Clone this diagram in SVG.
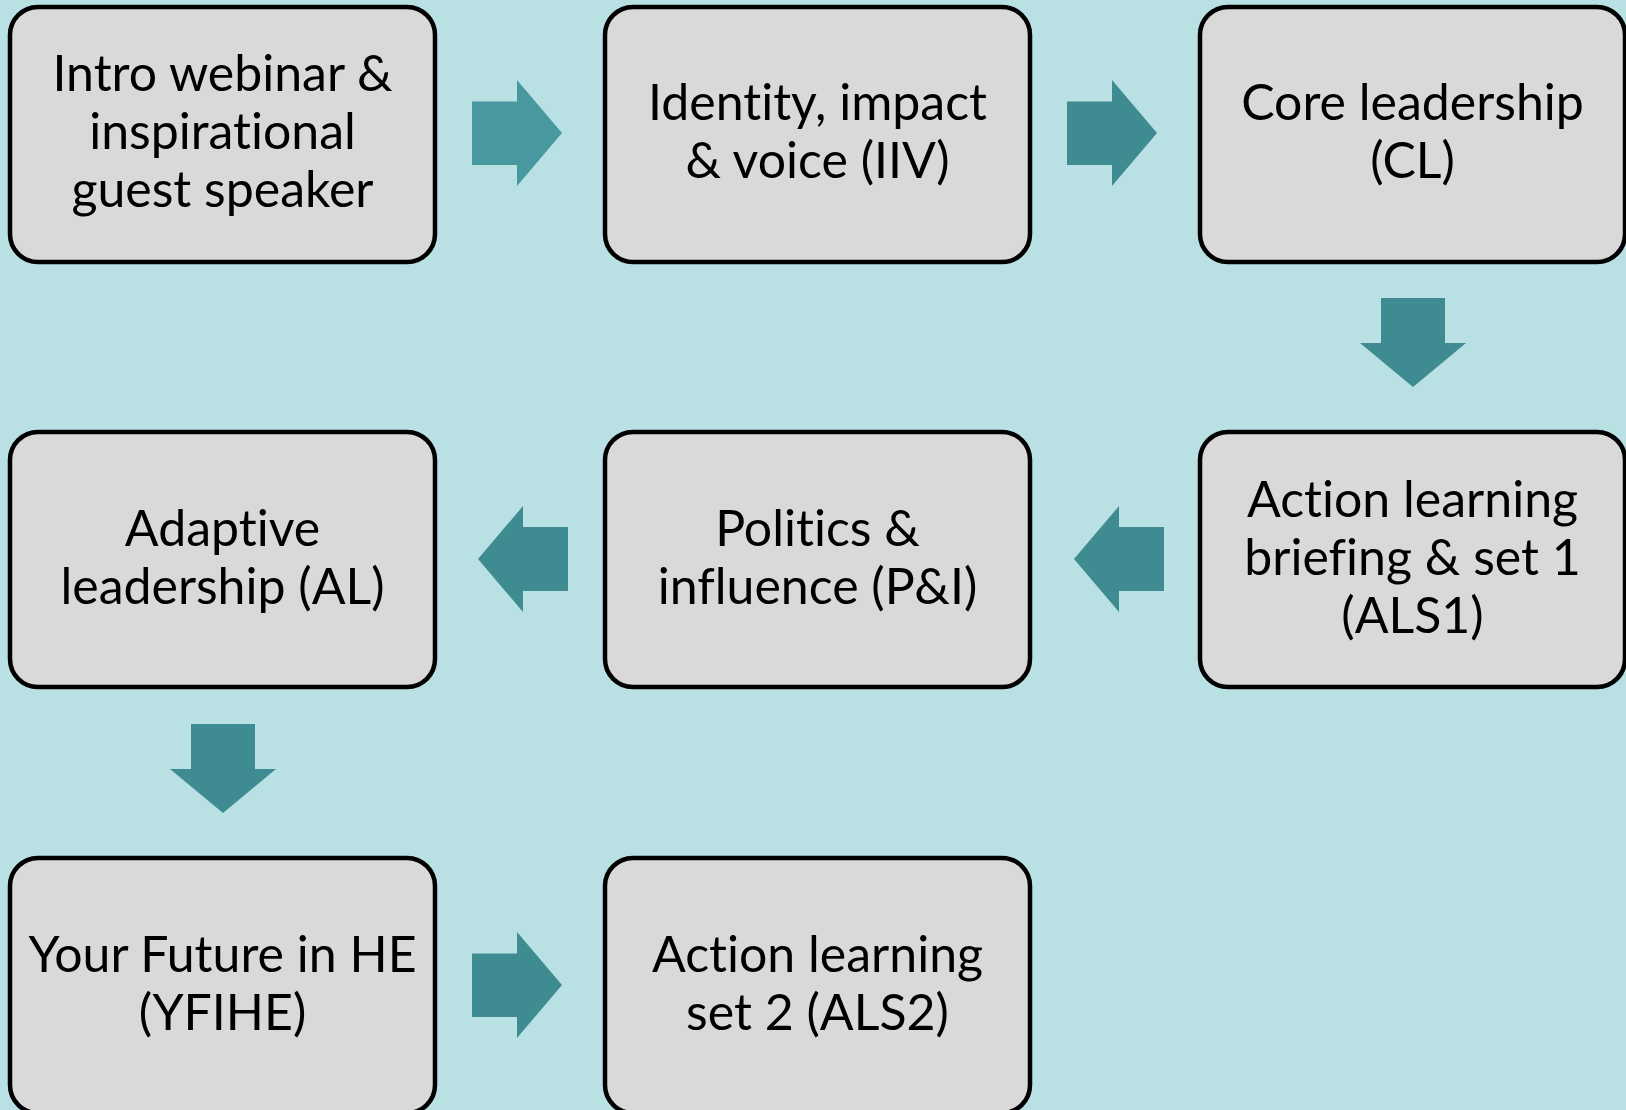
<svg xmlns="http://www.w3.org/2000/svg" width="1626" height="1110" viewBox="0 0 1626 1110">
  <style>
    .box rect { fill: #d9d9d9; stroke: #000; stroke-width: 4.5; }
    .box text { font-family: Lato, "Liberation Sans", sans-serif; font-size: 50px; fill: #000; text-anchor: middle; font-variant-ligatures: none; }
    .arrow { fill: #3e8c91; }
    .arrow.light { fill: #4898a0; }
  </style>
  <defs>
    <polygon id="arrow-right" points="0,21.5 45,21.5 45,0 90,53 45,106 45,85 0,85"/>
    <polygon id="arrow-left" points="0,53 45,0 45,21 90,21 90,85 45,85 45,106"/>
    <polygon id="arrow-down" points="21,0 85,0 85,45 106,45 53,89 0,45 21,45"/>
  </defs>

  <rect width="1626" height="1110" fill="#b9e0e3"/>

  <!-- connectors -->
  <g id="connectors">
    <use href="#arrow-right" class="arrow light" x="472" y="80"/>
    <use href="#arrow-right" class="arrow" x="1067" y="80"/>
    <use href="#arrow-down" class="arrow" x="1360" y="298"/>
    <use href="#arrow-left" class="arrow" x="1074" y="506"/>
    <use href="#arrow-left" class="arrow" x="478" y="506"/>
    <use href="#arrow-down" class="arrow" x="170" y="724"/>
    <use href="#arrow-right" class="arrow" x="472" y="932"/>
  </g>

  <!-- row 1 -->
  <g id="intro" class="box">
    <rect x="10" y="7" width="425" height="255" rx="28"/>
    <text x="222.5" y="91">Intro webinar &amp;</text>
    <text x="222.5" y="149">inspirational</text>
    <text x="222.5" y="207">guest speaker</text>
  </g>
  <g id="iiv" class="box">
    <rect x="605" y="7" width="425" height="255" rx="28"/>
    <text x="817.5" y="120">Identity, impact</text>
    <text x="817.5" y="178">&amp; voice (IIV)</text>
  </g>
  <g id="cl" class="box">
    <rect x="1200" y="7" width="425" height="255" rx="28"/>
    <text x="1412.5" y="120">Core leadership</text>
    <text x="1412.5" y="178">(CL)</text>
  </g>

  <!-- row 2 -->
  <g id="als1" class="box">
    <rect x="1200" y="432" width="425" height="255" rx="28"/>
    <text x="1412.5" y="517">Action learning</text>
    <text x="1412.5" y="575">briefing &amp; set 1</text>
    <text x="1412.5" y="633">(ALS1)</text>
  </g>
  <g id="pi" class="box">
    <rect x="605" y="432" width="425" height="255" rx="28"/>
    <text x="817.5" y="546">Politics &amp;</text>
    <text x="817.5" y="604">influence (P&amp;I)</text>
  </g>
  <g id="al" class="box">
    <rect x="10" y="432" width="425" height="255" rx="28"/>
    <text x="222.5" y="546">Adaptive</text>
    <text x="222.5" y="604">leadership (AL)</text>
  </g>

  <!-- row 3 -->
  <g id="yfihe" class="box">
    <rect x="10" y="858" width="425" height="255" rx="28"/>
    <text x="222.5" y="972">Your Future in HE</text>
    <text x="222.5" y="1030">(YFIHE)</text>
  </g>
  <g id="als2" class="box">
    <rect x="605" y="858" width="425" height="255" rx="28"/>
    <text x="817.5" y="972">Action learning</text>
    <text x="817.5" y="1030">set 2 (ALS2)</text>
  </g>
</svg>
